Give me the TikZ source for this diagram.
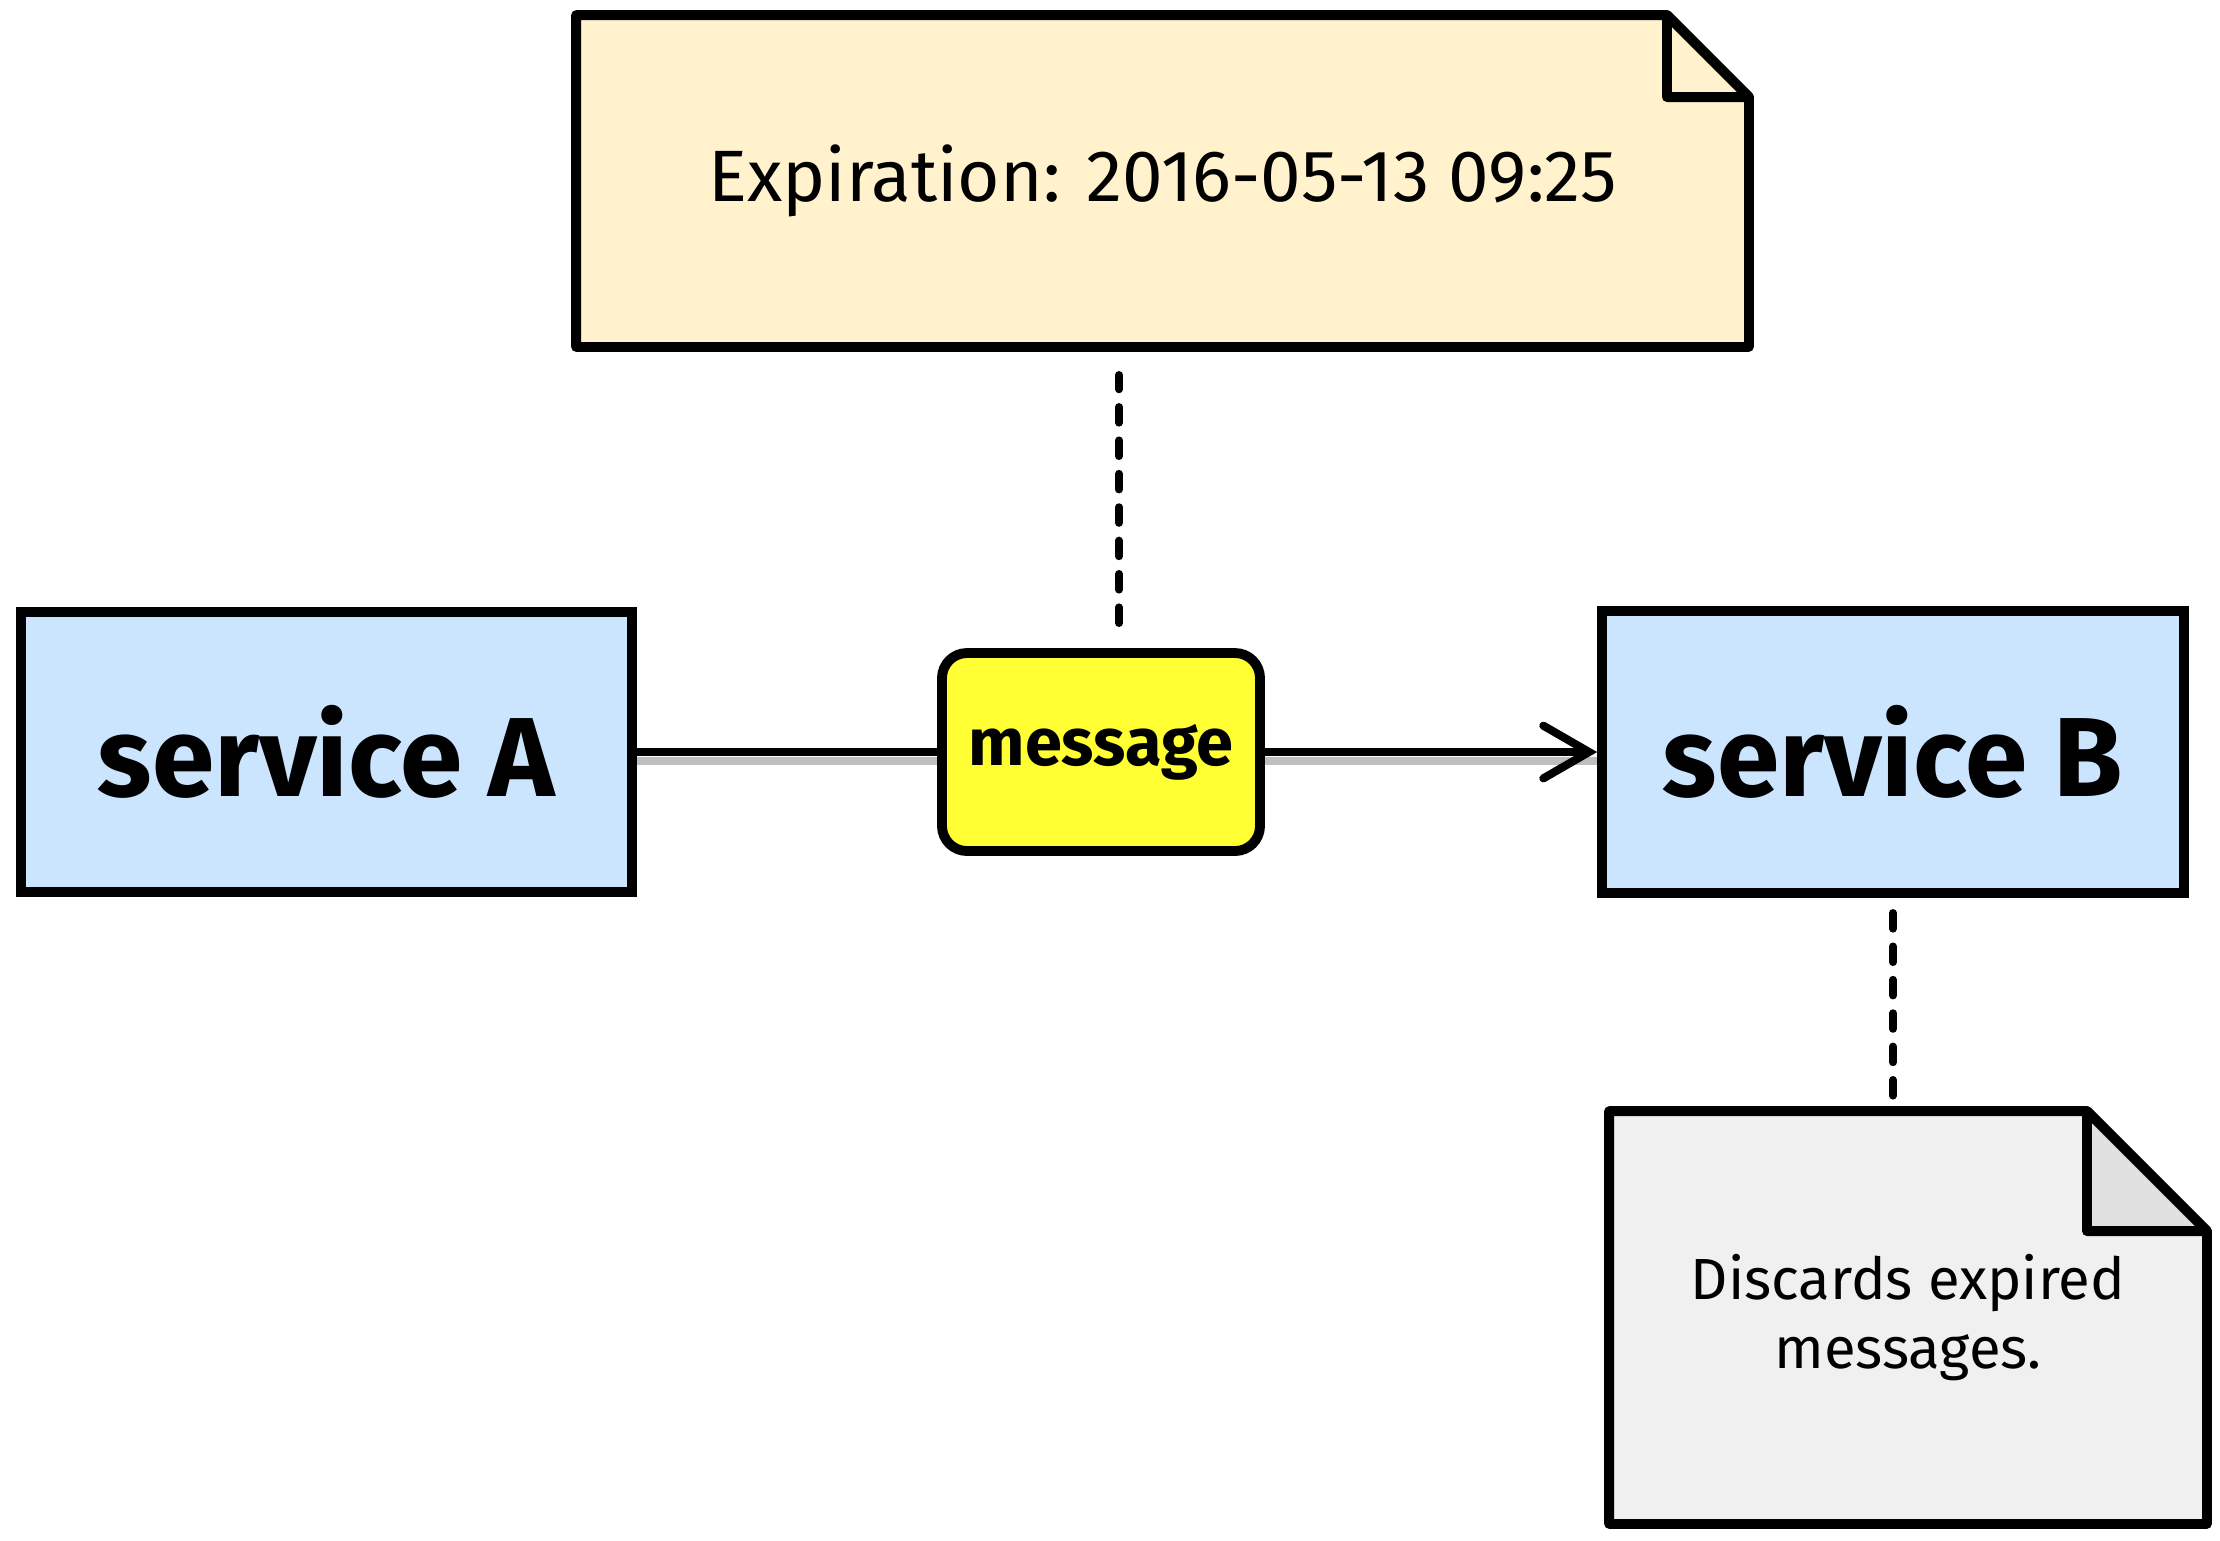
\documentclass[tikz,border=0pt]{standalone}
\usepackage{fontspec}
\setmainfont{Fira Sans}
\usetikzlibrary{positioning, calc, arrows.meta, backgrounds}

\definecolor{servblue}{HTML}{CCE5FF}
\definecolor{msgyellow}{HTML}{FFFF33}
\definecolor{expfill}{HTML}{FFF2CC}
\definecolor{discfill}{HTML}{F0F0F0}
\definecolor{foldgray}{HTML}{E0E0E0}

\begin{document}
\begin{tikzpicture}[node distance=4cm,on grid,line width=2.8pt]
  \tikzstyle{service}=[draw, fill=servblue, minimum width=6.11cm, minimum height=2.8cm,
    font=\bfseries\fontsize{32}{38}\selectfont]
  \tikzstyle{msgbox}=[draw, fill=msgyellow, rounded corners=0.25cm, minimum width=3.18cm,
    minimum height=1.98cm, font=\bfseries\fontsize{19}{23}\selectfont]
  \tikzstyle{note}=[inner sep=0pt, align=center]
  \tikzstyle{sheet}=[draw, line width=2.8pt, line join=round]
  \tikzstyle{link}=[line width=2.3pt, preaction={draw=black!25, arrows=-, line width=2.2pt,
    transform canvas={yshift=-2.6pt}}]
  \tikzstyle{hint}=[line width=2.2pt, line cap=round, dash pattern=on 4.5pt off 5pt]
  \useasboundingbox (0,0) rectangle (22.2,-15.4);
  \node[service] (A) at (3.265,-7.52) {service A};
  \node[msgbox, right=7.745cm of A] (msg) {message};
  \node[service, minimum width=5.82cm, minimum height=2.82cm, right=7.92cm of msg] (B) {service B};
  \node[note, minimum width=11.63cm, minimum height=3.22cm, font=\fontsize{20.7}{25}\selectfont,
    above right=5.71cm and 0.615cm of msg] (exp) {Expiration: 2016-05-13 09:25};
  \node[note, minimum width=5.88cm, minimum height=4.03cm, font=\fontsize{16.5}{19.5}\selectfont,
    below right=5.655cm and 0.15cm of B] (disc) {Discards expired\\messages.};
  % dog-eared notes
  \begin{pgfonlayer}{background}
    \draw[sheet, fill=expfill] (exp.south west) |- ($(exp.north east)+(-0.82,0)$)
      -- ($(exp.north east)+(0,-0.82)$) -- (exp.south east) -- cycle;
    \draw[sheet, fill=expfill] ($(exp.north east)+(-0.82,0)$) |- ($(exp.north east)+(0,-0.82)$) -- cycle;
    \draw[sheet, fill=discfill] (disc.south west) |- ($(disc.north east)+(-1.2,0)$)
      -- ($(disc.north east)+(0,-1.2)$) -- (disc.south east) -- cycle;
    \draw[sheet, fill=foldgray] ($(disc.north east)+(-1.2,0)$) |- ($(disc.north east)+(0,-1.2)$) -- cycle;
  \end{pgfonlayer}
  \draw[link] (A) -- (msg);
  \draw[link, -{Straight Barb[length=13pt, width=15pt, line cap=round]}] (msg) -- (B);
  \draw[hint, shorten <=0.25cm, shorten >=0.28cm]
    ([xshift=0.18cm]msg.north) -- ([xshift=0.18cm]msg.north |- exp.south);
  \draw[hint, shorten <=0.15cm] (B.south) -- (B.south |- disc.north);
\end{tikzpicture}
\end{document}
